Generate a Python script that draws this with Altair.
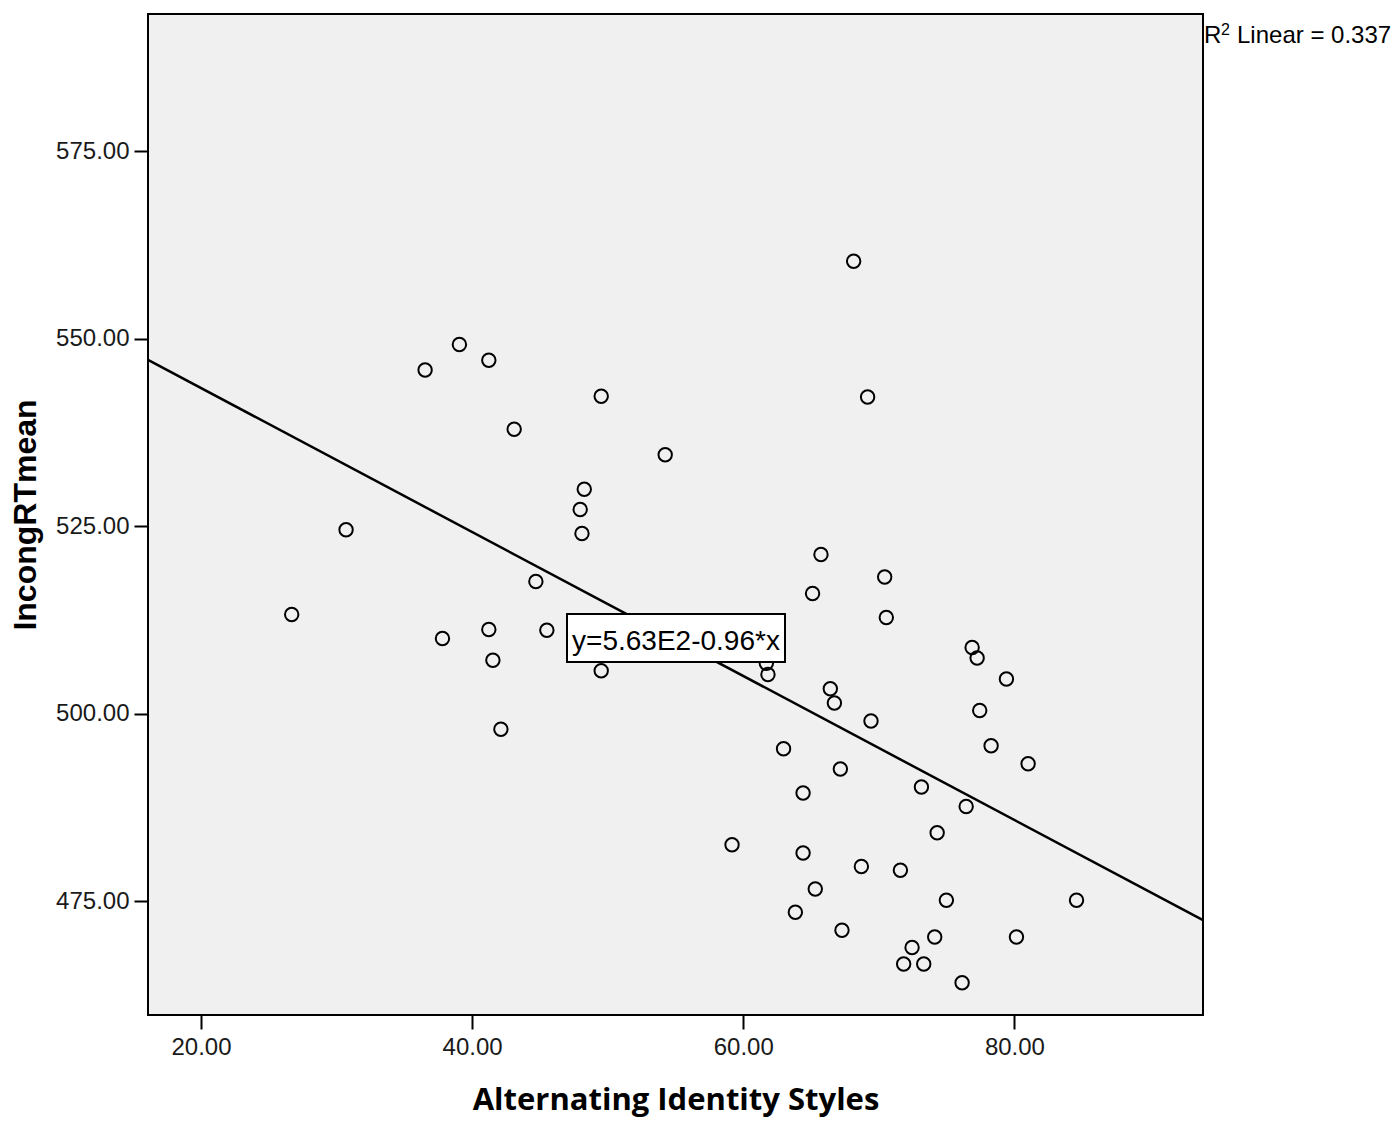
import altair as alt
import pandas as pd

# Data
AIS = [26.69, 30.70, 36.53, 37.81, 39.06, 41.23, 41.23, 41.53, 42.12, 43.10,
       44.70, 45.51, 48.27, 47.97, 48.10, 49.52, 49.52, 54.24, 59.17, 61.70,
       61.82, 62.97, 63.84, 64.41, 64.41, 65.11, 65.31, 65.73, 66.42, 66.72,
       67.16, 67.28, 68.14, 68.71, 69.17, 69.42, 70.43, 70.55, 71.59, 71.83,
       72.45, 73.14, 73.31, 74.12, 74.30, 74.98, 76.14, 76.44, 76.88, 77.25,
       77.44, 78.28, 79.41, 80.15, 81.01, 84.58]
RT = [513.2, 524.5, 545.8, 510.0, 549.2, 547.1, 511.2, 507.1, 497.9, 537.9,
      517.6, 511.1, 529.9, 527.2, 524.0, 542.3, 505.7, 534.5, 482.5, 506.7,
      505.2, 495.3, 473.5, 489.4, 481.4, 516.0, 476.6, 521.2, 503.3, 501.4,
      492.6, 471.1, 560.3, 479.6, 542.2, 499.0, 518.2, 512.8, 479.1, 466.6,
      468.8, 490.2, 466.6, 470.2, 484.1, 475.1, 464.1, 487.6, 508.8, 507.4,
      500.4, 495.7, 504.6, 470.2, 493.3, 475.1]

X_TICKS = [20, 40, 60, 80]
Y_TICKS = [475, 500, 525, 550, 575]
X_DOMAIN = [16.09, 93.91]
Y_DOMAIN = [459.8, 593.27]

FIT_INTERCEPT = 562.6
FIT_SLOPE = -0.96
EQ_LABEL = ["y=5.63E2-0.96*x"]
R2_BASE = ["R"]
R2_SUP = ["2"]
R2_REST = ["Linear = 0.337"]

X_TITLE = "Alternating Identity Styles"
Y_TITLE = "IncongRTmean"

W, H = 1055, 1001

df = pd.DataFrame({"x": AIS, "y": RT})

xscale = alt.Scale(domain=X_DOMAIN, nice=False, zero=False)
yscale = alt.Scale(domain=Y_DOMAIN, nice=False, zero=False)

xaxis = alt.Axis(
    title=X_TITLE, values=X_TICKS, format=".2f", grid=False, domain=False,
    tickColor="black", tickWidth=2, tickSize=14,
    labelFont="Liberation Sans", labelFontSize=24, labelColor="#1a1a1a",
    labelPadding=6,
    titleFont="Open Sans", titleFontSize=31, titleFontWeight="bold",
    titleColor="black", titleX=W / 2, titleY=94, titleBaseline="alphabetic",
    titleAlign="center",
)
yaxis = alt.Axis(
    title=Y_TITLE, values=Y_TICKS, format=".2f", grid=False, domain=False,
    tickColor="black", tickWidth=2, tickSize=14,
    labelFont="Liberation Sans", labelFontSize=24, labelColor="#1a1a1a",
    labelPadding=5,
    titleFont="Liberation Sans", titleFontSize=32, titleFontWeight="bold",
    titleColor="black", titleX=-123, titleY=H / 2, titleBaseline="middle",
    titleAlign="center", titleAngle=270,
)

points = alt.Chart(df).mark_point(
    shape="circle", filled=False, color="black", strokeWidth=2,
    size=180, opacity=1
).encode(
    x=alt.X("x:Q", scale=xscale, axis=xaxis),
    y=alt.Y("y:Q", scale=yscale, axis=yaxis),
)

fit = alt.Chart(pd.DataFrame({"x": X_DOMAIN})).transform_calculate(
    y=f"{FIT_INTERCEPT} + ({FIT_SLOPE}) * datum.x"
).mark_line(color="black", strokeWidth=2.5).encode(
    x=alt.X("x:Q", scale=xscale),
    y=alt.Y("y:Q", scale=yscale),
)

box = alt.Chart(pd.DataFrame({"t": EQ_LABEL})).mark_rect(
    fill="white", stroke="black", strokeWidth=2
).encode(
    x=alt.value(419), x2=alt.value(637), y=alt.value(600), y2=alt.value(648)
)

eq_text = alt.Chart(pd.DataFrame({"t": EQ_LABEL})).mark_text(
    font="Liberation Sans", fontSize=28, align="center", baseline="alphabetic",
    color="black"
).encode(x=alt.value(528), y=alt.value(636), text="t:N")

r2_base = alt.Chart(pd.DataFrame({"t": R2_BASE})).mark_text(
    font="Liberation Sans", fontSize=24, align="left", baseline="alphabetic",
    color="black"
).encode(x=alt.value(W + 1), y=alt.value(29), text="t:N")

r2_sup = alt.Chart(pd.DataFrame({"t": R2_SUP})).mark_text(
    font="Liberation Sans", fontSize=16, align="left", baseline="alphabetic",
    color="black"
).encode(x=alt.value(W + 18), y=alt.value(21), text="t:N")

r2_rest = alt.Chart(pd.DataFrame({"t": R2_REST})).mark_text(
    font="Liberation Sans", fontSize=24, align="left", baseline="alphabetic",
    color="black"
).encode(x=alt.value(W + 34), y=alt.value(29), text="t:N")

chart = alt.layer(points, fit, box, eq_text, r2_base, r2_sup, r2_rest).properties(
    width=W, height=H,
    autosize=alt.AutoSizeParams(type="none"),
    padding={"left": 140, "top": 6, "right": 189, "bottom": 102},
).configure_view(
    fill="#f0f0f0", stroke="black", strokeWidth=2
)

chart.save("out.html", embed_options={"renderer": "svg", "actions": False})
